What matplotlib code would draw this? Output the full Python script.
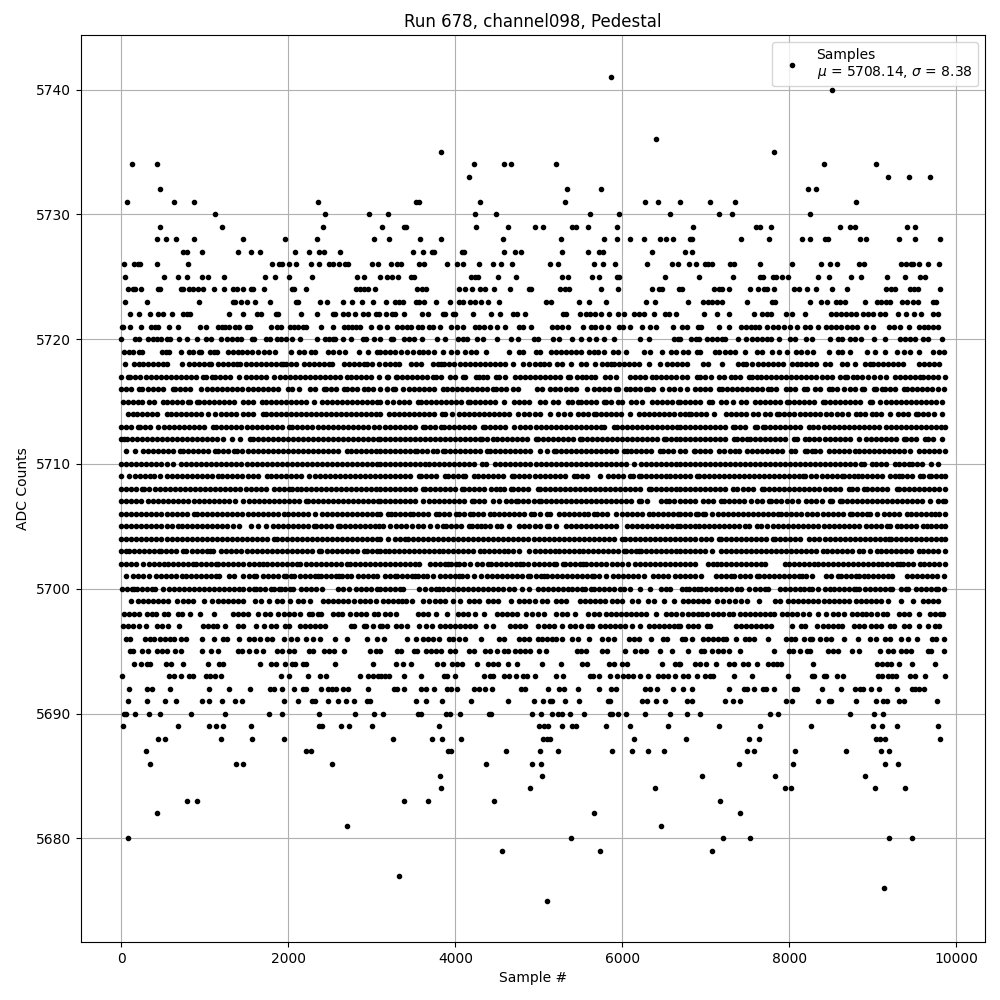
import matplotlib
matplotlib.use("Agg")
import matplotlib.pyplot as plt

# x positions (sample #), one list per ADC level
x_5675 = [5092]
x_5676 = [9129]
x_5677 = [3328]
x_5679 = [4564, 5728, 7077]
x_5680 = [83, 5380, 7209, 7533, 9189, 9465]
x_5681 = [2699, 6460]
x_5682 = [431, 5656, 7413]
x_5683 = [791, 911, 3388, 3676, 4468, 7173]
x_5684 = [3832, 4900, 6388, 7953, 8025, 9021, 9381]
x_5685 = [3820, 5032, 6957, 7833, 8901]
x_5686 = [347, 1379, 1463, 2519, 4372, 4924, 5020, 7401, 8049, 9141, 9297]
x_5687 = [299, 2207, 2267, 3916, 3952, 4612, 5008, 5224, 5872, 6112, 6304, 6496, 7497, 7581, 8073, 8673, 9093, 9189]
x_5688 = [443, 527, 1199, 1559, 1943, 3256, 3724, 3844, 4072, 5044, 5092, 5128, 6136, 6765, 7521, 7641, 9033, 9081, 9141, 9801]
x_5689 = [23, 683, 1055, 1139, 1223, 1547, 2363, 2399, 2627, 2723, 3000, 3808, 4996, 5056, 5104, 5272, 5392, 5440, 5800, 6088, 6544, 7161, 7653, 8265, 8997, 9105, 9285, 9777]
x_5690 = [35, 59, 167, 335, 467, 839, 1247, 1763, 1919, 2363, 2795, 3023, 3136, 3556, 3592, 3892, 3940, 4060, 4408, 4432, 4924, 5020, 5152, 5224, 5272, 5368, 5536, 5848, 5872, 5944, 6040, 6268, 6568, 6777, 6933, 7773, 7869, 8721, 9009, 9117]
x_5691 = [83, 311, 527, 659, 971, 1055, 1211, 1367, 1451, 1943, 2111, 2279, 2315, 2471, 2591, 2687, 2791, 2939, 2975, 3532, 3652, 3844, 4192, 4636, 4936, 5044, 5128, 5152, 5308, 5476, 5824, 5848, 6232, 6292, 6400, 6508, 6777, 6837, 7233, 7329, 7413, 7965, 8037, 8349, 8469, 8493, 8793, 9033, 9117, 9165, 9309, 9369, 9765]
x_5692 = [95, 311, 371, 587, 1055, 1295, 1535, 1775, 1823, 1919, 2063, 2171, 2207, 2387, 2471, 2519, 2567, 2651, 2711, 2951, 3268, 3304, 3388, 3592, 3652, 3748, 3904, 3952, 4024, 4228, 4288, 4360, 4444, 4792, 4840, 5104, 5236, 5296, 5464, 5716, 5860, 5920, 6268, 6328, 6412, 6604, 6729, 6837, 7281, 7461, 7497, 7581, 7689, 7725, 7821, 8061, 8097, 8385, 8613, 8781, 8841, 8877, 8973, 9069, 9285, 9465, 9501, 9549, 9609]
x_5693 = [11, 575, 635, 719, 815, 863, 1019, 1067, 1127, 1199, 1907, 2003, 2231, 2375, 2447, 2855, 2951, 3011, 3071, 3112, 3160, 3208, 3388, 3592, 3868, 3904, 4000, 4348, 4420, 4456, 4588, 4648, 4732, 4816, 4864, 4948, 5200, 5284, 5608, 5644, 5716, 5848, 5932, 6004, 6064, 6124, 6208, 6304, 6424, 6484, 6544, 6628, 6729, 6789, 6897, 6993, 7053, 7089, 7341, 7557, 7989, 8277, 8301, 8409, 8433, 8565, 8637, 9057, 9105, 9177, 9225, 9273, 9441, 9501, 9621, 9861]
x_5694 = [155, 239, 311, 347, 539, 599, 743, 1043, 1175, 1223, 1655, 1787, 1847, 1955, 2039, 2075, 2171, 2207, 2555, 3011, 3292, 3376, 3472, 3784, 3856, 3964, 4024, 4084, 4264, 4396, 4456, 4516, 4636, 4744, 5032, 5260, 5512, 5572, 5836, 5896, 5992, 6052, 6472, 6628, 6676, 6689, 6873, 6933, 7005, 7125, 7281, 7341, 7449, 7509, 7617, 7749, 7809, 7857, 7905, 8289, 9045, 9105, 9165, 9213, 9309, 9465, 9741]
x_5695 = [107, 143, 251, 323, 431, 491, 551, 647, 719, 971, 1079, 1163, 1403, 1451, 1523, 1607, 1691, 1859, 1919, 2003, 2063, 2243, 2291, 2423, 2483, 2543, 2663, 2975, 3047, 3096, 3304, 3352, 3508, 3544, 3652, 3712, 3772, 3832, 3940, 4000, 4168, 4228, 4360, 4420, 4504, 4588, 4636, 4720, 4780, 4840, 4900, 4996, 5080, 5452, 5500, 5560, 5752, 5812, 6028, 6148, 6220, 6280, 6448, 6592, 6789, 6945, 6981, 7077, 7149, 7209, 7281, 7413, 7821, 8001, 8049, 8133, 8217, 8253, 8457, 8517, 8577, 8745, 8829, 9081, 9177, 9237, 9333, 9393, 9453, 9657, 9693, 9849]
x_5696 = [59, 107, 287, 347, 395, 467, 527, 587, 635, 719, 779, 971, 1115, 1223, 1271, 1415, 1523, 1583, 1655, 1739, 1799, 1947, 2027, 2099, 2207, 2291, 2375, 2555, 2699, 2939, 3059, 3148, 3424, 3532, 3616, 3676, 3736, 3808, 3928, 3976, 4048, 4120, 4312, 4528, 4588, 4768, 4828, 4888, 4984, 5032, 5092, 5152, 5200, 5272, 5392, 5464, 5596, 5752, 5824, 5896, 6076, 6136, 6196, 6340, 6484, 6532, 6717, 6753, 6837, 6969, 7029, 7089, 7149, 7209, 7245, 7365, 7473, 7521, 7581, 7749, 7965, 8025, 8073, 8181, 8253, 8277, 8373, 8433, 8493, 8649, 8817, 8961, 9033, 9141, 9201, 9333, 9417, 9525, 9705, 9753, 9849]
x_5697 = [23, 83, 143, 215, 299, 431, 491, 563, 695, 983, 1043, 1103, 1151, 1247, 1403, 1463, 1607, 1703, 1787, 1847, 1955, 2003, 2135, 2195, 2255, 2315, 2375, 2435, 2747, 2783, 2903, 2927, 3011, 3095, 3124, 3184, 3292, 3352, 3424, 3568, 3652, 3724, 3820, 3880, 3940, 4000, 4060, 4120, 4180, 4240, 4372, 4456, 4660, 4720, 4780, 4840, 4984, 5056, 5116, 5176, 5272, 5368, 5428, 5500, 5584, 5632, 5728, 5788, 5848, 5908, 5968, 6028, 6112, 6208, 6316, 6376, 6436, 6496, 6556, 6616, 6664, 6689, 6789, 6849, 6909, 7017, 7053, 7365, 7425, 7485, 7545, 7605, 7665, 7725, 7785, 8037, 8145, 8193, 8337, 8397, 8457, 8517, 8577, 8625, 8769, 8829, 8889, 8973, 9033, 9093, 9201, 9249, 9369, 9429, 9549, 9657, 9741, 9789]
x_5698 = [35, 95, 155, 215, 311, 371, 419, 515, 563, 683, 731, 827, 947, 1115, 1343, 1403, 1463, 1511, 1631, 1715, 1775, 1871, 1943, 2003, 2063, 2135, 2243, 2279, 2351, 2387, 2531, 2591, 2639, 2735, 2807, 2867, 2927, 3023, 3071, 3160, 3220, 3292, 3556, 3616, 3676, 3772, 3904, 4036, 4096, 4156, 4240, 4348, 4504, 4564, 4624, 4684, 4744, 4852, 4924, 4984, 5056, 5200, 5272, 5332, 5428, 5584, 5656, 5716, 5800, 5860, 5920, 5980, 6040, 6100, 6160, 6220, 6280, 6400, 6520, 6580, 6640, 6717, 6789, 6849, 6909, 6957, 7017, 7089, 7149, 7209, 7281, 7329, 7413, 7473, 7533, 7593, 7653, 7713, 7773, 7821, 7917, 7977, 8037, 8097, 8169, 8241, 8349, 8433, 8517, 8577, 8649, 8745, 8805, 8865, 8913, 8973, 9045, 9117, 9165, 9309, 9369, 9429, 9549, 9681, 9741, 9801, 9837]
x_5699 = [119, 203, 263, 323, 383, 443, 503, 563, 671, 743, 803, 863, 995, 1091, 1163, 1223, 1283, 1343, 1403, 1463, 1595, 1667, 1763, 1859, 1919, 2015, 2111, 2171, 2255, 2411, 2471, 2531, 2591, 2651, 2711, 2783, 2855, 2915, 2975, 3047, 3136, 3196, 3256, 3316, 3356, 3412, 3484, 3616, 3688, 3760, 3820, 3880, 3976, 4060, 4168, 4228, 4288, 4396, 4456, 4516, 4672, 4768, 4828, 4888, 4948, 5032, 5092, 5200, 5260, 5320, 5488, 5548, 5608, 5668, 5728, 5788, 5876, 5936, 5996, 6112, 6184, 6304, 6376, 6496, 6616, 6729, 6789, 6849, 6909, 6969, 7029, 7137, 7209, 7281, 7353, 7425, 7497, 7641, 7833, 7893, 7989, 8049, 8109, 8169, 8229, 8289, 8349, 8409, 8469, 8529, 8589, 8649, 8709, 8793, 8853, 8913, 8973, 9033, 9093, 9177, 9333, 9477, 9597, 9657, 9717, 9777]
x_5700 = [11, 71, 131, 155, 191, 251, 311, 371, 407, 503, 575, 635, 695, 755, 815, 875, 935, 995, 1055, 1115, 1175, 1235, 1295, 1355, 1415, 1463, 1523, 1583, 1607, 1655, 1715, 1787, 1823, 1883, 1907, 1955, 2015, 2051, 2147, 2207, 2267, 2327, 2399, 2591, 2651, 2723, 2807, 2867, 2927, 2987, 3059, 3103, 3160, 3220, 3280, 3340, 3376, 3568, 3640, 3712, 3772, 3808, 3856, 3916, 3976, 4036, 4096, 4156, 4216, 4276, 4336, 4396, 4456, 4516, 4576, 4648, 4708, 4804, 4888, 4984, 5044, 5104, 5164, 5224, 5284, 5344, 5392, 5452, 5512, 5548, 5620, 5656, 5716, 5776, 5836, 5896, 5968, 6016, 6088, 6208, 6328, 6460, 6520, 6568, 6709, 6757, 6801, 6861, 6909, 6945, 7005, 7065, 7125, 7185, 7245, 7305, 7369, 7425, 7521, 7593, 7653, 7713, 7749, 7893, 7953, 8013, 8073, 8133, 8181, 8241, 8277, 8349, 8421, 8481, 8529, 8589, 8649, 8709, 8769, 8793, 8829, 8901, 8961, 9021, 9081, 9141, 9201, 9225, 9333, 9393, 9417, 9513, 9573, 9633, 9693, 9753, 9777, 9849]
x_5701 = [59, 143, 203, 263, 335, 419, 479, 539, 599, 659, 731, 779, 839, 899, 959, 1019, 1079, 1139, 1175, 1295, 1355, 1463, 1523, 1583, 1607, 1691, 1751, 1811, 1871, 1943, 1967, 2027, 2063, 2135, 2195, 2255, 2315, 2351, 2387, 2447, 2507, 2567, 2603, 2639, 2699, 2747, 2831, 2891, 2951, 3011, 3059, 3160, 3220, 3280, 3304, 3364, 3424, 3484, 3520, 3556, 3616, 3664, 3736, 3820, 3880, 3940, 4000, 4048, 4084, 4144, 4228, 4312, 4384, 4444, 4504, 4564, 4624, 4684, 4744, 4804, 4876, 4900, 4960, 5020, 5056, 5092, 5152, 5212, 5272, 5332, 5392, 5452, 5512, 5572, 5632, 5656, 5716, 5800, 5884, 5944, 6004, 6064, 6124, 6184, 6256, 6364, 6424, 6484, 6544, 6628, 6689, 6749, 6809, 6869, 6945, 7125, 7185, 7245, 7305, 7341, 7413, 7473, 7533, 7617, 7641, 7701, 7761, 7821, 7881, 7941, 8001, 8061, 8121, 8157, 8205, 8277, 8433, 8493, 8577, 8613, 8673, 8733, 8793, 8829, 8889, 8937, 8997, 9057, 9117, 9177, 9225, 9405, 9465, 9525, 9585, 9645, 9705, 9765, 9849]
x_5702 = [1, 61, 121, 181, 263, 335, 395, 455, 515, 563, 623, 683, 743, 803, 863, 899, 959, 1019, 1079, 1139, 1163, 1223, 1283, 1343, 1403, 1463, 1523, 1583, 1643, 1691, 1739, 1799, 1859, 1919, 1979, 2039, 2099, 2135, 2207, 2267, 2327, 2387, 2447, 2507, 2567, 2627, 2703, 2735, 2795, 2855, 2915, 2975, 3035, 3103, 3156, 3216, 3276, 3336, 3396, 3456, 3516, 3568, 3700, 3760, 3820, 3880, 3916, 3952, 4012, 4048, 4108, 4180, 4264, 4324, 4396, 4432, 4492, 4552, 4612, 4672, 4732, 4780, 4816, 4876, 4936, 4996, 5056, 5116, 5176, 5200, 5284, 5308, 5368, 5428, 5488, 5524, 5560, 5620, 5680, 5740, 5800, 5872, 5932, 5992, 6064, 6148, 6208, 6268, 6328, 6388, 6448, 6508, 6568, 6628, 6689, 6749, 6809, 6873, 7029, 7089, 7137, 7185, 7245, 7305, 7365, 7425, 7485, 7545, 7605, 7665, 7713, 7953, 8001, 8061, 8121, 8181, 8241, 8301, 8349, 8397, 8457, 8517, 8577, 8637, 8697, 8757, 8817, 8877, 8937, 8997, 9057, 9105, 9165, 9225, 9285, 9321, 9357, 9417, 9477, 9561, 9609, 9669, 9729, 9789, 9861]
x_5703 = [1, 59, 95, 155, 215, 275, 335, 395, 455, 479, 539, 599, 659, 743, 779, 851, 911, 971, 1031, 1067, 1103, 1199, 1259, 1319, 1379, 1439, 1499, 1559, 1619, 1679, 1739, 1799, 1859, 1919, 1979, 2039, 2099, 2159, 2219, 2279, 2363, 2387, 2459, 2519, 2579, 2639, 2699, 2759, 2819, 2903, 2943, 3003, 3063, 3103, 3156, 3208, 3268, 3328, 3388, 3448, 3508, 3568, 3628, 3688, 3748, 3808, 3856, 3916, 3976, 4036, 4096, 4156, 4216, 4300, 4348, 4408, 4468, 4528, 4588, 4636, 4696, 4768, 4888, 4948, 5008, 5068, 5128, 5188, 5236, 5296, 5356, 5416, 5476, 5524, 5584, 5644, 5704, 5764, 5824, 5884, 5944, 6016, 6040, 6100, 6160, 6196, 6220, 6280, 6340, 6400, 6460, 6520, 6580, 6640, 6689, 6753, 6813, 6873, 6933, 6993, 7077, 7185, 7245, 7305, 7365, 7425, 7485, 7545, 7605, 7665, 7725, 7785, 7845, 7905, 7965, 8025, 8085, 8145, 8205, 8265, 8325, 8397, 8445, 8505, 8565, 8625, 8685, 8745, 8829, 8877, 8961, 9045, 9093, 9153, 9213, 9273, 9333, 9393, 9453, 9549, 9597, 9657, 9717, 9777, 9861]
x_5704 = [1, 61, 121, 181, 241, 301, 361, 421, 481, 541, 601, 661, 721, 781, 841, 901, 961, 1021, 1081, 1141, 1201, 1261, 1321, 1381, 1441, 1501, 1561, 1621, 1681, 1741, 1823, 1859, 1919, 1979, 2039, 2099, 2159, 2219, 2279, 2339, 2399, 2459, 2519, 2579, 2639, 2699, 2759, 2819, 2879, 2939, 2999, 3059, 3103, 3196, 3280, 3340, 3400, 3436, 3496, 3556, 3616, 3676, 3736, 3796, 3856, 3916, 3976, 4036, 4096, 4156, 4216, 4276, 4336, 4396, 4456, 4516, 4576, 4636, 4696, 4756, 4816, 4876, 4936, 4996, 5056, 5116, 5176, 5236, 5296, 5356, 5416, 5476, 5536, 5596, 5656, 5716, 5776, 5836, 5896, 5996, 6036, 6096, 6156, 6216, 6276, 6336, 6396, 6456, 6516, 6576, 6636, 6696, 6756, 6816, 6876, 6936, 6996, 7056, 7161, 7185, 7245, 7305, 7365, 7425, 7485, 7545, 7605, 7665, 7725, 7809, 7833, 7893, 7953, 8013, 8073, 8133, 8241, 8301, 8361, 8421, 8481, 8541, 8601, 8661, 8721, 8781, 8841, 8901, 8961, 9021, 9081, 9141, 9189, 9213, 9273, 9333, 9393, 9453, 9513, 9573, 9633, 9693, 9753, 9813, 9860]
x_5705 = [1, 61, 121, 181, 241, 301, 361, 421, 481, 541, 601, 683, 731, 791, 851, 911, 971, 1031, 1091, 1151, 1211, 1271, 1343, 1407, 1547, 1631, 1735, 1811, 1871, 1931, 1991, 2051, 2111, 2171, 2231, 2303, 2327, 2387, 2447, 2507, 2591, 2615, 2675, 2735, 2795, 2855, 2915, 2975, 3035, 3083, 3136, 3220, 3292, 3352, 3412, 3484, 3556, 3616, 3700, 3784, 3856, 3892, 3952, 4012, 4072, 4168, 4204, 4264, 4312, 4360, 4420, 4504, 4552, 4648, 4768, 4828, 4888, 4948, 5008, 5092, 5116, 5200, 5320, 5380, 5440, 5500, 5560, 5620, 5680, 5740, 5800, 5860, 5920, 6052, 6112, 6172, 6232, 6292, 6352, 6412, 6472, 6532, 6592, 6652, 6696, 6749, 6809, 6873, 6921, 6981, 7041, 7101, 7161, 7221, 7281, 7341, 7401, 7473, 7521, 7617, 7665, 7737, 7809, 7869, 7929, 7989, 8049, 8109, 8169, 8229, 8289, 8349, 8409, 8469, 8529, 8589, 8649, 8709, 8769, 8829, 8913, 8973, 9033, 9093, 9165, 9201, 9285, 9333, 9393, 9453, 9513, 9597, 9645, 9693, 9753, 9813, 9861]
x_5706 = [1, 61, 121, 181, 241, 301, 361, 421, 481, 541, 601, 661, 721, 781, 875, 911, 971, 1031, 1091, 1151, 1211, 1271, 1331, 1391, 1451, 1511, 1571, 1631, 1691, 1751, 1811, 1871, 1943, 1991, 2051, 2111, 2171, 2231, 2315, 2399, 2459, 2519, 2579, 2639, 2699, 2759, 2819, 2879, 2939, 2999, 3059, 3103, 3196, 3232, 3280, 3340, 3400, 3460, 3496, 3556, 3616, 3676, 3772, 3808, 3868, 3928, 4012, 4048, 4108, 4180, 4216, 4276, 4336, 4420, 4468, 4528, 4588, 4648, 4708, 4768, 4828, 4912, 4936, 5008, 5092, 5128, 5236, 5296, 5356, 5416, 5476, 5536, 5584, 5656, 5692, 5752, 5812, 5920, 5992, 6052, 6112, 6172, 6232, 6316, 6364, 6424, 6484, 6544, 6604, 6664, 6689, 6749, 6809, 6885, 6909, 6969, 6993, 7077, 7149, 7209, 7269, 7329, 7389, 7449, 7509, 7569, 7629, 7689, 7749, 7809, 7869, 7905, 7965, 8025, 8085, 8145, 8217, 8277, 8337, 8397, 8457, 8517, 8577, 8637, 8721, 8745, 8805, 8865, 8925, 8961, 9045, 9129, 9189, 9249, 9309, 9405, 9453, 9513, 9573, 9633, 9693, 9741, 9789, 9860]
x_5707 = [1, 61, 121, 181, 241, 323, 383, 443, 503, 563, 623, 683, 743, 803, 875, 935, 995, 1055, 1115, 1175, 1235, 1295, 1367, 1463, 1523, 1583, 1643, 1703, 1763, 1823, 1883, 1943, 2003, 2063, 2123, 2207, 2231, 2291, 2351, 2411, 2471, 2531, 2591, 2651, 2711, 2771, 2831, 2891, 2951, 3011, 3071, 3096, 3156, 3216, 3276, 3336, 3396, 3456, 3516, 3616, 3688, 3748, 3808, 3868, 3928, 3988, 4048, 4108, 4204, 4228, 4288, 4348, 4456, 4528, 4612, 4672, 4732, 4756, 4816, 4876, 4936, 4996, 5020, 5080, 5140, 5200, 5260, 5320, 5380, 5440, 5500, 5560, 5620, 5680, 5740, 5800, 5860, 5920, 5980, 6040, 6100, 6196, 6220, 6292, 6460, 6520, 6556, 6616, 6696, 6749, 6809, 6869, 6969, 7029, 7089, 7185, 7221, 7281, 7341, 7401, 7461, 7545, 7617, 7677, 7761, 7785, 7845, 7905, 7977, 8037, 8109, 8205, 8265, 8325, 8385, 8481, 8505, 8601, 8625, 8685, 8745, 8805, 8865, 8925, 8985, 9045, 9105, 9165, 9225, 9285, 9345, 9405, 9465, 9525, 9585, 9681, 9777, 9837, 9860]
x_5708 = [1, 61, 121, 181, 251, 275, 335, 403, 467, 527, 587, 647, 707, 767, 827, 887, 947, 1007, 1067, 1127, 1187, 1247, 1307, 1367, 1427, 1487, 1547, 1607, 1667, 1727, 1823, 1883, 1943, 2003, 2039, 2103, 2147, 2207, 2267, 2327, 2387, 2447, 2507, 2567, 2627, 2687, 2747, 2807, 2867, 2927, 2987, 3047, 3103, 3156, 3216, 3276, 3336, 3396, 3456, 3516, 3616, 3640, 3700, 3760, 3820, 3880, 3940, 4000, 4084, 4108, 4168, 4228, 4288, 4348, 4432, 4492, 4540, 4588, 4672, 4696, 4756, 4816, 4876, 4984, 5008, 5068, 5128, 5188, 5248, 5308, 5368, 5428, 5488, 5548, 5608, 5668, 5728, 5788, 5848, 5908, 5968, 6028, 6088, 6148, 6208, 6316, 6340, 6400, 6460, 6520, 6580, 6640, 6696, 6749, 6809, 6869, 6929, 6989, 7049, 7109, 7169, 7229, 7329, 7377, 7449, 7509, 7569, 7677, 7701, 7761, 7821, 7881, 7941, 8001, 8061, 8121, 8181, 8241, 8301, 8361, 8421, 8481, 8541, 8601, 8709, 8745, 8805, 8889, 8925, 8985, 9045, 9105, 9165, 9285, 9309, 9369, 9429, 9489, 9549, 9609, 9669, 9729, 9789, 9860]
x_5709 = [1, 95, 167, 227, 287, 347, 395, 467, 551, 611, 671, 731, 791, 851, 911, 971, 1031, 1091, 1163, 1211, 1271, 1331, 1391, 1451, 1511, 1571, 1631, 1739, 1787, 1847, 1907, 1967, 2027, 2087, 2147, 2251, 2315, 2375, 2435, 2495, 2555, 2615, 2675, 2735, 2795, 2855, 2915, 2975, 3035, 3103, 3156, 3216, 3276, 3336, 3396, 3456, 3568, 3592, 3652, 3712, 3772, 3880, 3916, 3976, 4036, 4096, 4120, 4228, 4276, 4336, 4396, 4456, 4516, 4576, 4684, 4708, 4768, 4828, 4888, 4948, 5008, 5068, 5128, 5188, 5248, 5308, 5416, 5452, 5512, 5572, 5728, 5824, 5884, 5944, 6004, 6088, 6124, 6196, 6220, 6280, 6340, 6400, 6460, 6520, 6568, 6628, 6696, 6749, 6809, 6897, 6921, 6981, 7041, 7101, 7161, 7221, 7281, 7341, 7401, 7461, 7521, 7581, 7641, 7701, 7761, 7821, 7881, 7941, 8001, 8061, 8121, 8169, 8193, 8265, 8325, 8385, 8445, 8505, 8565, 8625, 8649, 8709, 8769, 8817, 8865, 8925, 8985, 9045, 9105, 9201, 9261, 9309, 9345, 9405, 9465, 9561, 9597, 9669, 9693, 9753, 9813, 9860]
x_5710 = [1, 61, 121, 181, 241, 301, 361, 421, 481, 541, 623, 719, 779, 839, 899, 959, 1019, 1079, 1139, 1199, 1259, 1319, 1379, 1439, 1499, 1559, 1619, 1679, 1739, 1799, 1859, 1919, 1979, 2039, 2099, 2159, 2219, 2279, 2339, 2399, 2459, 2519, 2579, 2639, 2699, 2759, 2819, 2879, 2939, 2999, 3059, 3103, 3156, 3216, 3276, 3336, 3396, 3456, 3516, 3576, 3640, 3688, 3748, 3808, 3868, 3928, 3988, 4048, 4108, 4168, 4228, 4324, 4372, 4480, 4540, 4600, 4660, 4720, 4780, 4840, 4900, 4960, 5020, 5080, 5140, 5200, 5260, 5320, 5380, 5440, 5500, 5560, 5620, 5680, 5740, 5800, 5860, 5920, 5980, 6040, 6136, 6220, 6280, 6340, 6400, 6460, 6520, 6580, 6640, 6696, 6749, 6809, 6869, 6929, 6989, 7049, 7109, 7169, 7229, 7289, 7349, 7409, 7469, 7529, 7589, 7649, 7709, 7769, 7829, 7889, 7949, 8009, 8069, 8129, 8189, 8249, 8309, 8369, 8429, 8489, 8549, 8609, 8669, 8729, 8789, 8853, 8889, 8985, 9033, 9093, 9153, 9261, 9309, 9369, 9429, 9465, 9525, 9585, 9693, 9777]
x_5711 = [59, 167, 263, 323, 383, 443, 503, 563, 623, 703, 743, 803, 863, 923, 983, 1043, 1127, 1163, 1223, 1283, 1355, 1391, 1451, 1511, 1571, 1631, 1691, 1751, 1811, 1871, 1931, 1991, 2051, 2111, 2171, 2231, 2291, 2351, 2411, 2471, 2531, 2591, 2703, 2747, 2807, 2867, 2927, 2987, 3047, 3103, 3156, 3216, 3276, 3336, 3396, 3456, 3520, 3544, 3604, 3664, 3736, 3784, 3856, 3880, 3940, 4000, 4060, 4120, 4180, 4240, 4300, 4384, 4420, 4480, 4540, 4600, 4660, 4720, 4780, 4840, 4900, 5008, 5092, 5176, 5200, 5260, 5320, 5380, 5440, 5500, 5560, 5620, 5680, 5740, 5800, 5860, 5920, 6016, 6052, 6100, 6160, 6220, 6280, 6340, 6456, 6484, 6544, 6604, 6696, 6749, 6857, 6873, 6933, 6993, 7053, 7161, 7221, 7293, 7353, 7401, 7497, 7557, 7617, 7677, 7737, 7797, 7857, 7917, 8025, 8073, 8193, 8217, 8277, 8313, 8373, 8469, 8529, 8589, 8649, 8709, 8781, 8829, 8889, 8949, 9009, 9069, 9129, 9189, 9249, 9309, 9369, 9441, 9549, 9609, 9669, 9729, 9789, 9860]
x_5712 = [1, 35, 71, 131, 191, 251, 311, 371, 431, 491, 551, 611, 671, 731, 791, 851, 911, 971, 1031, 1091, 1151, 1223, 1331, 1427, 1535, 1571, 1631, 1691, 1751, 1811, 1871, 1931, 1991, 2051, 2111, 2171, 2231, 2291, 2351, 2411, 2471, 2531, 2591, 2651, 2711, 2771, 2831, 2891, 2951, 3011, 3071, 3103, 3156, 3216, 3276, 3336, 3396, 3456, 3516, 3576, 3636, 3696, 3756, 3816, 3876, 3936, 3996, 4056, 4116, 4176, 4236, 4296, 4324, 4384, 4456, 4504, 4564, 4624, 4684, 4744, 4804, 4864, 4960, 4984, 5044, 5104, 5164, 5224, 5284, 5344, 5404, 5488, 5512, 5572, 5632, 5692, 5752, 5812, 5872, 5932, 5992, 6052, 6112, 6172, 6232, 6292, 6352, 6412, 6496, 6520, 6580, 6640, 6696, 6749, 6809, 6869, 6929, 6989, 7049, 7109, 7169, 7229, 7341, 7377, 7437, 7497, 7533, 7593, 7653, 7713, 7773, 7833, 7893, 7953, 8061, 8097, 8193, 8241, 8301, 8361, 8421, 8481, 8541, 8601, 8661, 8721, 8829, 8913, 8973, 9033, 9093, 9153, 9213, 9273, 9369, 9393, 9453, 9513, 9621, 9657, 9717, 9825]
x_5713 = [1, 61, 121, 203, 227, 287, 347, 443, 515, 575, 635, 695, 755, 815, 875, 935, 995, 1103, 1139, 1199, 1259, 1319, 1379, 1439, 1499, 1559, 1619, 1679, 1739, 1799, 1859, 1919, 2003, 2039, 2099, 2159, 2219, 2279, 2351, 2411, 2471, 2531, 2591, 2651, 2711, 2771, 2831, 2891, 2951, 3023, 3083, 3156, 3216, 3276, 3336, 3396, 3456, 3516, 3616, 3640, 3700, 3760, 3832, 3868, 3928, 3988, 4048, 4108, 4168, 4228, 4336, 4360, 4420, 4480, 4540, 4600, 4708, 4780, 4840, 4900, 4960, 5020, 5080, 5140, 5200, 5260, 5320, 5380, 5440, 5500, 5560, 5620, 5680, 5740, 5776, 5896, 5932, 5992, 6052, 6112, 6172, 6232, 6292, 6352, 6412, 6472, 6532, 6592, 6652, 6696, 6749, 6809, 6869, 6929, 6989, 7049, 7109, 7169, 7229, 7329, 7353, 7413, 7473, 7593, 7617, 7689, 7713, 7773, 7833, 7893, 7953, 8013, 8073, 8133, 8241, 8289, 8349, 8409, 8469, 8529, 8589, 8649, 8709, 8769, 8829, 8889, 8949, 9009, 9069, 9153, 9213, 9273, 9333, 9393, 9453, 9513, 9573, 9633, 9693, 9753, 9813, 9860]
x_5714 = [83, 143, 191, 251, 311, 371, 431, 551, 599, 659, 719, 779, 839, 899, 959, 1043, 1127, 1199, 1259, 1319, 1379, 1463, 1511, 1571, 1691, 1727, 1787, 1847, 1907, 1967, 2027, 2087, 2147, 2207, 2267, 2327, 2387, 2447, 2507, 2567, 2627, 2687, 2747, 2807, 2867, 2927, 2987, 3047, 3096, 3208, 3268, 3328, 3388, 3448, 3508, 3568, 3628, 3688, 3748, 3844, 3880, 3964, 4048, 4108, 4168, 4228, 4288, 4348, 4408, 4468, 4528, 4588, 4648, 4756, 4828, 4888, 4948, 5008, 5128, 5224, 5296, 5368, 5464, 5524, 5584, 5656, 5680, 5740, 5800, 5860, 5920, 5980, 6088, 6196, 6256, 6316, 6376, 6436, 6496, 6556, 6616, 6696, 6749, 6801, 6825, 6885, 6945, 7005, 7101, 7245, 7305, 7365, 7425, 7485, 7569, 7629, 7713, 7773, 7857, 7881, 7941, 8001, 8061, 8133, 8193, 8253, 8313, 8373, 8433, 8493, 8565, 8625, 8697, 8793, 8841, 8901, 8985, 9033, 9093, 9201, 9297, 9357, 9417, 9513, 9537, 9597, 9657, 9729, 9825]
x_5715 = [23, 83, 143, 203, 251, 335, 395, 503, 551, 611, 671, 731, 803, 827, 903, 935, 995, 1055, 1115, 1175, 1235, 1295, 1355, 1463, 1511, 1571, 1679, 1727, 1787, 1847, 1907, 1967, 2027, 2087, 2147, 2207, 2303, 2399, 2459, 2519, 2579, 2639, 2699, 2759, 2819, 2879, 2939, 2999, 3059, 3103, 3184, 3256, 3328, 3388, 3448, 3556, 3592, 3652, 3712, 3772, 3832, 3892, 3952, 4012, 4072, 4156, 4180, 4240, 4300, 4360, 4420, 4480, 4588, 4708, 4768, 4828, 4888, 5008, 5068, 5164, 5224, 5344, 5392, 5464, 5500, 5560, 5620, 5680, 5776, 5800, 5860, 5944, 5992, 6100, 6160, 6232, 6352, 6412, 6472, 6532, 6592, 6664, 6689, 6749, 6809, 6869, 6929, 7041, 7077, 7185, 7245, 7329, 7425, 7485, 7593, 7653, 7713, 7773, 7833, 7893, 7977, 8001, 8061, 8121, 8181, 8241, 8301, 8397, 8421, 8481, 8541, 8601, 8661, 8721, 8781, 8841, 8961, 8985, 9081, 9153, 9213, 9273, 9333, 9393, 9453, 9513, 9573, 9633, 9693, 9753, 9825]
x_5716 = [1, 61, 121, 215, 251, 323, 383, 443, 503, 623, 647, 707, 767, 827, 951, 1031, 1091, 1151, 1211, 1271, 1331, 1391, 1451, 1511, 1571, 1631, 1691, 1751, 1811, 1871, 1991, 2039, 2123, 2255, 2315, 2423, 2447, 2507, 2567, 2663, 2703, 2763, 2823, 2903, 2951, 3011, 3103, 3176, 3184, 3256, 3280, 3376, 3448, 3508, 3568, 3628, 3688, 3748, 3856, 3896, 3956, 4016, 4076, 4136, 4196, 4256, 4316, 4376, 4456, 4492, 4552, 4612, 4696, 4756, 4972, 5032, 5128, 5188, 5248, 5320, 5380, 5440, 5572, 5656, 5716, 5776, 5836, 5920, 5944, 6040, 6088, 6148, 6208, 6280, 6304, 6364, 6472, 6556, 6616, 6696, 6777, 6873, 6933, 6993, 7053, 7161, 7197, 7257, 7317, 7377, 7437, 7497, 7557, 7617, 7677, 7749, 7785, 7845, 7957, 8013, 8073, 8181, 8217, 8313, 8373, 8469, 8505, 8565, 8649, 8721, 8781, 8865, 8889, 9009, 9033, 9105, 9141, 9201, 9261, 9369, 9405, 9465, 9525, 9585, 9645, 9705, 9777, 9849]
x_5717 = [1, 83, 103, 163, 223, 295, 355, 415, 475, 535, 595, 655, 715, 775, 835, 895, 983, 1015, 1087, 1123, 1183, 1243, 1303, 1415, 1487, 1547, 1607, 1667, 1727, 1823, 1903, 1963, 2023, 2083, 2143, 2203, 2263, 2323, 2383, 2443, 2503, 2563, 2623, 2703, 2751, 2811, 2871, 2931, 2991, 3083, 3176, 3196, 3288, 3304, 3364, 3424, 3484, 3544, 3604, 3664, 3736, 3768, 3828, 3936, 4000, 4088, 4116, 4248, 4288, 4336, 4376, 4488, 4528, 4600, 4712, 4772, 4832, 4892, 4952, 5012, 5072, 5132, 5192, 5252, 5344, 5376, 5456, 5512, 5560, 5620, 5668, 5788, 5848, 5928, 6088, 6148, 6208, 6268, 6352, 6400, 6464, 6520, 6580, 6648, 6717, 6777, 6889, 6929, 6989, 7065, 7157, 7217, 7305, 7353, 7413, 7521, 7557, 7609, 7665, 7725, 7785, 7845, 7905, 7965, 8025, 8085, 8145, 8205, 8265, 8325, 8385, 8445, 8513, 8601, 8661, 8685, 8757, 8805, 8865, 8937, 9009, 9081, 9153, 9261, 9321, 9381, 9441, 9501, 9561, 9597, 9657, 9717, 9777, 9860]
x_5718 = [47, 155, 215, 263, 323, 383, 443, 503, 551, 731, 815, 875, 935, 995, 1055, 1079, 1163, 1223, 1283, 1343, 1391, 1427, 1487, 1547, 1607, 1667, 1727, 1787, 1847, 1907, 1931, 1967, 2027, 2087, 2183, 2243, 2303, 2363, 2423, 2483, 2519, 2663, 2723, 2783, 2843, 2903, 2943, 3000, 3083, 3156, 3216, 3276, 3328, 3472, 3532, 3592, 3736, 3796, 3832, 3868, 3928, 3988, 4060, 4120, 4180, 4240, 4300, 4360, 4420, 4480, 4540, 4600, 4696, 4816, 4888, 4948, 5008, 5056, 5116, 5212, 5272, 5380, 5500, 5560, 5668, 5752, 5812, 5860, 5896, 5956, 6016, 6076, 6136, 6196, 6316, 6448, 6532, 6592, 6652, 6717, 6777, 6969, 7029, 7197, 7389, 7449, 7485, 7557, 7629, 7689, 7749, 7809, 7869, 7929, 8037, 8097, 8145, 8205, 8265, 8325, 8421, 8481, 8625, 8685, 8781, 8901, 8961, 9001, 9061, 9121, 9181, 9241, 9301, 9361, 9549, 9609, 9669, 9729, 9789]
x_5719 = [35, 95, 143, 215, 251, 491, 539, 575, 719, 815, 863, 935, 959, 1067, 1115, 1151, 1283, 1343, 1403, 1451, 1499, 1559, 1631, 1703, 1763, 1835, 2027, 2123, 2183, 2267, 2315, 2471, 2531, 2603, 2675, 2843, 2951, 3059, 3096, 3156, 3216, 3276, 3352, 3424, 3496, 3568, 3616, 3676, 3748, 3856, 3952, 4024, 4120, 4192, 4252, 4368, 4648, 4768, 4816, 4960, 5008, 5140, 5200, 5260, 5320, 5380, 5440, 5500, 5596, 5656, 5704, 5776, 5884, 5944, 6040, 6256, 6328, 6472, 6580, 6640, 6729, 6789, 6897, 6933, 7112, 7160, 7232, 7292, 7352, 7471, 7615, 7675, 7795, 7879, 7974, 8082, 8142, 8214, 8286, 8477, 8585, 8633, 8729, 8933, 9028, 9148, 9292, 9376, 9447, 9555, 9723, 9795, 9855]
x_5720 = [1, 167, 215, 323, 383, 431, 479, 551, 587, 695, 791, 911, 1019, 1079, 1199, 1271, 1331, 1391, 1439, 1559, 1583, 1727, 1775, 1859, 1907, 1967, 2039, 2135, 2339, 2435, 2483, 2531, 2555, 2651, 2747, 2891, 2927, 3023, 3100, 3232, 3256, 3388, 3448, 3508, 3604, 3784, 3880, 4036, 4096, 4144, 4264, 4336, 4504, 4672, 4756, 4936, 4984, 5164, 5236, 5392, 5500, 5596, 5680, 5776, 5896, 6208, 6316, 6616, 6664, 6689, 6825, 6885, 6920, 7016, 7076, 7136, 7196, 7232, 7388, 7483, 7555, 7615, 7675, 7735, 7783, 7879, 8010, 8070, 8202, 8274, 8489, 8585, 8633, 8729, 8789, 8861, 9016, 9148, 9328, 9388, 9447, 9507, 9603, 9663, 9823]
x_5721 = [11, 23, 107, 239, 359, 407, 443, 575, 683, 947, 1019, 1163, 1211, 1247, 1295, 1367, 1415, 1499, 1535, 1787, 1859, 1907, 2015, 2063, 2111, 2171, 2207, 2387, 2531, 2663, 2711, 2759, 2807, 2855, 2987, 3083, 3096, 3184, 3304, 3364, 3424, 3472, 3556, 3604, 3688, 3736, 3820, 3952, 4024, 4096, 4240, 4288, 4348, 4420, 4504, 4600, 4768, 4816, 4912, 5152, 5212, 5272, 5344, 5524, 5620, 5668, 5740, 5824, 5956, 6004, 6088, 6232, 6328, 6400, 6604, 6717, 6777, 6909, 6945, 7160, 7280, 7423, 7483, 7543, 7591, 7639, 7735, 7807, 7867, 7938, 8010, 8094, 8190, 8250, 8346, 8441, 8501, 8561, 8621, 8693, 8753, 8813, 8921, 9004, 9196, 9256, 9328, 9435, 9555, 9615, 9663, 9723, 9783]
x_5722 = [107, 215, 347, 443, 503, 607, 743, 791, 827, 1295, 1463, 1619, 1667, 1847, 1871, 2147, 2339, 2531, 2555, 2651, 2711, 2795, 2891, 2951, 3047, 3083, 3172, 3244, 3280, 3388, 3604, 3676, 3856, 3880, 3976, 4000, 4216, 4432, 4540, 4696, 4744, 4840, 5284, 5320, 5488, 5560, 5608, 5668, 5740, 5836, 5944, 6016, 6136, 6196, 6256, 6376, 6508, 6556, 6640, 6980, 7136, 7280, 7579, 7675, 7735, 7783, 7962, 8034, 8190, 8501, 8561, 8621, 8681, 8741, 8801, 8885, 8944, 9004, 9088, 9148, 9304, 9400, 9495, 9579, 9723, 9783]
x_5723 = [47, 311, 935, 1343, 1367, 1439, 1499, 1595, 1775, 2087, 2111, 2375, 2459, 2651, 2759, 2879, 3011, 3172, 3280, 3328, 3376, 3532, 3568, 3628, 3772, 3940, 4048, 4096, 4180, 4240, 4312, 4396, 4528, 5080, 5140, 5476, 5596, 5800, 6280, 6388, 6789, 6968, 7028, 7076, 7136, 7196, 7495, 7795, 7831, 8250, 8382, 8453, 8561, 8609, 8669, 8909, 9052, 9100, 9160, 9208, 9352, 9411, 9483, 9543, 9723, 9759]
x_5724 = [83, 143, 167, 239, 443, 467, 719, 743, 815, 863, 923, 983, 1115, 1235, 1343, 1391, 1463, 1547, 1575, 1703, 2039, 2063, 2207, 2807, 2855, 2903, 2951, 3035, 3544, 3604, 3652, 4048, 4120, 4204, 4300, 4360, 4468, 4660, 4888, 4912, 5248, 5308, 5356, 5740, 5944, 6352, 6436, 6472, 6676, 6717, 7100, 7160, 7196, 7280, 7531, 7627, 7699, 7735, 7819, 8058, 8118, 8214, 8322, 8513, 8693, 9160, 9220, 9268, 9447, 9495, 9543, 9807]
x_5725 = [47, 515, 683, 791, 971, 1043, 1235, 1715, 1835, 2003, 2279, 2819, 2903, 3100, 3184, 3244, 3316, 3472, 3508, 4192, 4240, 4276, 4516, 4732, 5272, 5344, 5632, 5716, 5932, 5956, 6508, 6920, 7328, 7651, 7687, 7807, 7843, 7915, 7986, 8346, 8477, 8741, 8861, 9172, 9388, 9567, 9627]
x_5726 = [35, 155, 203, 227, 431, 803, 1799, 1883, 1919, 2003, 2087, 2267, 2363, 2483, 2531, 2603, 2675, 2711, 3000, 3071, 3232, 3304, 3352, 3568, 3628, 3904, 4024, 4096, 4288, 4456, 4552, 4684, 5128, 5224, 5656, 5764, 5908, 6292, 6592, 6664, 6801, 6885, 6992, 7028, 7076, 7292, 7340, 7651, 8034, 8382, 8489, 8573, 8837, 8897, 9340, 9400, 9459, 9483, 9555, 9663, 9795]
x_5727 = [743, 791, 971, 1403, 1547, 1655, 2075, 2243, 2363, 2423, 2615, 3496, 3616, 3724, 3748, 4084, 4108, 4588, 4720, 4792, 5272, 5584, 5716, 5764, 6352, 6753, 6837]
x_5728 = [431, 539, 659, 875, 1463, 1955, 2339, 3023, 3208, 3580, 3832, 4576, 5260, 5776, 5932, 6088, 6256, 6448, 6520, 6604, 6813, 6837, 7423, 7759, 8154, 8250, 8430, 8465, 8849, 8921, 9316, 9507, 9807]
x_5729 = [467, 1211, 2411, 3124, 3388, 3412, 4252, 4636, 4948, 5044, 5392, 5440, 5584, 5932, 6849, 7603, 7651, 7783, 8609, 8729, 8789, 9411, 9507]
x_5730 = [1127, 2435, 2963, 3196, 4240, 4492, 5608, 5956, 6568, 7160, 7316, 8250]
x_5731 = [71, 635, 875, 2351, 3532, 3568, 4300, 5308, 6272, 6424, 6689, 7052, 7352, 8801]
x_5732 = [467, 5332, 5740, 8226, 8322]
x_5733 = [4168, 9184, 9435, 9687]
x_5734 = [131, 431, 4228, 4588, 4672, 5200, 8418, 9040]
x_5735 = [3832, 7819]
x_5736 = [6400]
x_5740 = [8513]
x_5741 = [5860]

levels = {5675: x_5675, 5676: x_5676, 5677: x_5677, 5679: x_5679, 5680: x_5680, 5681: x_5681, 5682: x_5682,
          5683: x_5683, 5684: x_5684, 5685: x_5685, 5686: x_5686, 5687: x_5687, 5688: x_5688, 5689: x_5689,
          5690: x_5690, 5691: x_5691, 5692: x_5692, 5693: x_5693, 5694: x_5694, 5695: x_5695, 5696: x_5696,
          5697: x_5697, 5698: x_5698, 5699: x_5699, 5700: x_5700, 5701: x_5701, 5702: x_5702, 5703: x_5703,
          5704: x_5704, 5705: x_5705, 5706: x_5706, 5707: x_5707, 5708: x_5708, 5709: x_5709, 5710: x_5710,
          5711: x_5711, 5712: x_5712, 5713: x_5713, 5714: x_5714, 5715: x_5715, 5716: x_5716, 5717: x_5717,
          5718: x_5718, 5719: x_5719, 5720: x_5720, 5721: x_5721, 5722: x_5722, 5723: x_5723, 5724: x_5724,
          5725: x_5725, 5726: x_5726, 5727: x_5727, 5728: x_5728, 5729: x_5729, 5730: x_5730, 5731: x_5731,
          5732: x_5732, 5733: x_5733, 5734: x_5734, 5735: x_5735, 5736: x_5736, 5740: x_5740, 5741: x_5741}

xs, ys = [], []
for level, positions in levels.items():
    for p in positions:
        xs.append(p)
        ys.append(level)

fig, ax = plt.subplots(figsize=(10, 10), dpi=100)
ax.plot(xs, ys, "k.", label="Samples\n$\\mu$ = 5708.14, $\\sigma$ = 8.38")
ax.set_title("Run 678, channel098, Pedestal")
ax.set_xlabel("Sample #")
ax.set_ylabel("ADC Counts")
ax.set_xlim(-483, 10343)
ax.set_ylim(5671.7, 5744.37)
ax.grid(True)
ax.legend(loc="upper right")
fig.subplots_adjust(left=0.081, right=0.985, top=0.965, bottom=0.058)
fig.savefig("out.png")
